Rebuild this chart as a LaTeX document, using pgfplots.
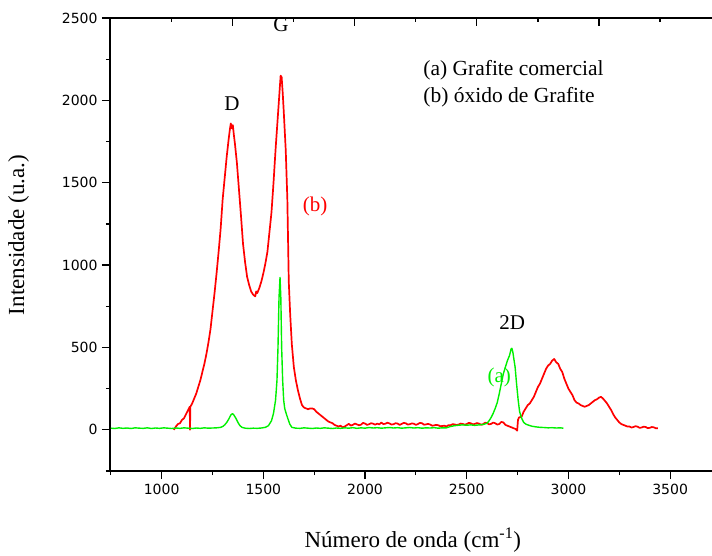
\documentclass[border=0pt]{standalone}
\usepackage{pgfplots}
\pgfplotsset{compat=1.18}
\usepackage{fontspec}
\setmainfont{Liberation Serif}
\newfontfamily\tickfont{DejaVu Sans}

\definecolor{specred}{RGB}{255,0,0}
\definecolor{specgreen}{RGB}{0,240,0}

\begin{document}
\begin{tikzpicture}
\useasboundingbox (-110bp,-85bp) rectangle (602bp,471bp);
\begin{axis}[
  scale only axis,
  width=602bp, height=453bp,
  xmin=746, xmax=3706,
  ymin=-250, ymax=2500,
  axis x line*=bottom,
  axis y line*=left,
  axis line style={line width=1.2bp},
  every tick/.style={line width=1.2bp, black},
  tick align=outside,
  major tick length=8bp,
  minor tick length=4bp,
  xtick={1000,1500,2000,2500,3000,3500},
  minor xtick={750,1250,1750,2250,2750,3250},
  ytick={0,500,1000,1500,2000,2500},
  minor ytick={-250,250,750,1250,1750,2250},
  tick label style={font=\tickfont\fontsize{14bp}{15bp}\selectfont},
  /pgf/number format/assume math mode=true,
  /pgf/number format/1000 sep={},
  xticklabel style={yshift=-2bp},
  yticklabel style={xshift=-1bp},
  xlabel={N\'umero de onda (cm\textsuperscript{-1})},
  ylabel={Intensidade (u.a.)},
  label style={font=\fontsize{23bp}{25bp}\selectfont},
  xlabel style={at={(axis description cs:0.503,-0.152)}, anchor=center},
  ylabel style={at={(axis description cs:-0.152,0.521)}, anchor=center, rotate=0},
  clip=false,
]
% (b) graphite oxide
\addplot[specred, line width=1.7bp, line join=round] coordinates {
(1060,0) (1070,20) (1080,35) (1090,40) (1100,60) (1110,70) (1120,95) (1130,120)
(1138,140) (1139.5,0) (1141,140) (1150,160) (1160,190) (1170,220) (1180,260)
(1190,300) (1200,350) (1210,400) (1220,460) (1230,530) (1240,610) (1250,720)
(1260,830) (1270,950) (1280,1080) (1290,1220) (1300,1400) (1310,1530) (1320,1660)
(1330,1770) (1335,1820) (1340,1860) (1345,1830) (1350,1850) (1355,1790) (1360,1740)
(1370,1620) (1380,1460) (1390,1300) (1400,1130) (1410,1020) (1420,930) (1430,880)
(1440,840) (1450,820) (1460,810) (1465,840) (1470,830) (1480,860) (1490,900)
(1500,950) (1510,1010) (1520,1080) (1530,1200) (1540,1320) (1550,1500) (1560,1700)
(1570,1880) (1580,2060) (1585,2150) (1590,2140) (1595,2050) (1600,1940) (1610,1700)
(1618,1400) (1625,900) (1632,700) (1640,520) (1650,380) (1660,300) (1670,240)
(1680,190) (1690,150) (1700,135) (1710,130) (1720,125) (1730,130) (1740,130)
(1750,125) (1760,110) (1770,100) (1780,90) (1790,80) (1800,70) (1810,60) (1820,50)
(1830,45) (1840,40) (1850,30) (1860,25) (1870,20) (1880,25) (1890,15) (1900,20)
(1910,28) (1920,36) (1930,26) (1940,30) (1950,38) (1960,33) (1970,28) (1980,31)
(1990,42) (2000,38) (2010,30) (2020,34) (2030,40) (2040,37) (2050,31) (2060,38)
(2070,33) (2080,44) (2090,35) (2100,37) (2110,43) (2120,39) (2130,32) (2140,34)
(2150,40) (2160,38) (2170,30) (2180,36) (2190,42) (2200,40) (2210,32) (2220,34)
(2230,39) (2240,37) (2250,30) (2260,35) (2270,42) (2280,40) (2290,31) (2300,33)
(2310,36) (2320,32) (2330,25) (2340,27) (2350,30) (2360,28) (2370,22) (2380,23)
(2390,25) (2400,20) (2410,28) (2420,27) (2430,34) (2440,33) (2450,29) (2460,32)
(2470,38) (2480,36) (2490,31) (2500,35) (2510,42) (2520,40) (2530,33) (2540,36)
(2550,41) (2560,38) (2570,31) (2580,34) (2590,43) (2600,41) (2610,33) (2620,36)
(2630,44) (2640,40) (2650,32) (2660,35) (2670,48) (2680,45) (2690,30)
(2700,25) (2720,15) (2740,5) (2748,-5) (2752,60) (2757,75) (2770,80) (2780,110)
(2790,130) (2800,150) (2810,160) (2820,180) (2830,200) (2840,230) (2850,260)
(2860,280) (2870,310) (2880,340) (2890,370) (2900,390) (2910,400) (2920,420)
(2930,430) (2940,410) (2950,400) (2960,370) (2970,350) (2980,310) (2990,280)
(3000,250) (3010,230) (3020,210) (3030,180) (3040,165) (3050,160) (3060,150)
(3070,145) (3080,140) (3090,145) (3100,150) (3110,160) (3120,170) (3130,180)
(3140,185) (3150,195) (3160,200) (3170,190) (3180,175) (3190,160) (3200,140)
(3210,120) (3220,95) (3230,75) (3240,60) (3250,45) (3260,35) (3270,30) (3280,25)
(3290,20) (3300,20) (3310,14) (3320,17) (3330,22) (3340,19) (3350,12) (3360,14)
(3370,19) (3380,17) (3390,10) (3400,12) (3410,17) (3420,15) (3430,9) (3440,10)
};
% (a) commercial graphite
\addplot[specgreen, line width=1.4bp, line join=round] coordinates {
(750,10) (770,8) (790,12) (810,9) (830,11) (850,8) (870,12) (890,10) (910,9)
(930,12) (950,8) (970,11) (990,9) (1010,12) (1030,10) (1050,8) (1070,11) (1090,9)
(1110,12) (1130,10) (1150,8) (1170,11) (1190,9) (1210,12) (1230,10) (1250,11)
(1270,12) (1290,15) (1300,20) (1310,30) (1320,45) (1330,65) (1340,90) (1348,98)
(1355,90) (1365,70) (1375,45) (1385,25) (1395,15) (1410,10) (1430,8) (1450,10)
(1470,9) (1490,11) (1510,15) (1525,25) (1540,55) (1550,100) (1560,180) (1567,300)
(1572,500) (1577,800) (1582,925) (1586,800) (1590,500) (1595,300) (1600,180)
(1605,130) (1612,100) (1620,70) (1630,35) (1640,15) (1660,10) (1680,9) (1700,12)
(1720,10) (1740,8) (1760,11) (1780,9) (1800,12) (1820,10) (1840,8) (1860,11)
(1880,9) (1900,12) (1920,10) (1940,13) (1960,9) (1980,12) (2000,10) (2020,14)
(2040,11) (2060,13) (2080,10) (2100,12) (2120,14) (2140,11) (2160,13) (2180,10)
(2200,12) (2220,14) (2240,11) (2260,13) (2280,10) (2300,12) (2320,11) (2340,13)
(2360,10) (2380,12) (2400,12) (2420,20) (2440,25) (2460,28) (2480,30) (2500,28)
(2520,30) (2540,27) (2560,30) (2580,32) (2600,40) (2610,55) (2620,75) (2630,100)
(2640,130) (2650,165) (2660,220) (2670,280) (2680,340) (2690,380) (2700,420)
(2710,450) (2718,490) (2722,495) (2727,470) (2733,420) (2738,380) (2745,280)
(2753,180) (2760,110) (2770,70) (2780,45) (2790,35) (2800,30) (2820,22) (2840,18)
(2860,15) (2880,14) (2900,12) (2920,13) (2940,11) (2960,12) (2975,10)
};
% peak and curve labels
\node[font=\fontsize{21bp}{23bp}\selectfont] at (axis cs:1346,1978) {D};
\node[font=\fontsize{21bp}{23bp}\selectfont] at (axis cs:1587,2458) {G};
\node[font=\fontsize{21bp}{23bp}\selectfont] at (axis cs:2723,649) {2D};
\node[font=\fontsize{21bp}{23bp}\selectfont, text=specred] at (axis cs:1754,1353) {(b)};
\node[font=\fontsize{21bp}{23bp}\selectfont, text=specgreen] at (axis cs:2660,316) {(a)};
\node[font=\fontsize{21.5bp}{23bp}\selectfont, anchor=west, inner sep=0pt] at (axis cs:2286,2184) {(a) Grafite comercial};
\node[font=\fontsize{21.5bp}{23bp}\selectfont, anchor=west, inner sep=0pt] at (axis cs:2286,2021) {(b) \'oxido de Grafite};
\end{axis}
% upper edge with its own tick spacing
\begin{axis}[
  scale only axis,
  width=602bp, height=453bp,
  xmin=746, xmax=3706,
  ymin=-250, ymax=2500,
  axis x line*=top,
  hide y axis,
  axis line style={line width=1.2bp},
  every tick/.style={line width=1.2bp, black},
  tick align=inside,
  major tick length=8bp,
  minor tick length=4bp,
  xtick={750,1350,1950,2550,3150},
  minor xtick={1050,1650,2250,2850,3450},
  xticklabels={},
]
\end{axis}
\end{tikzpicture}
\end{document}
